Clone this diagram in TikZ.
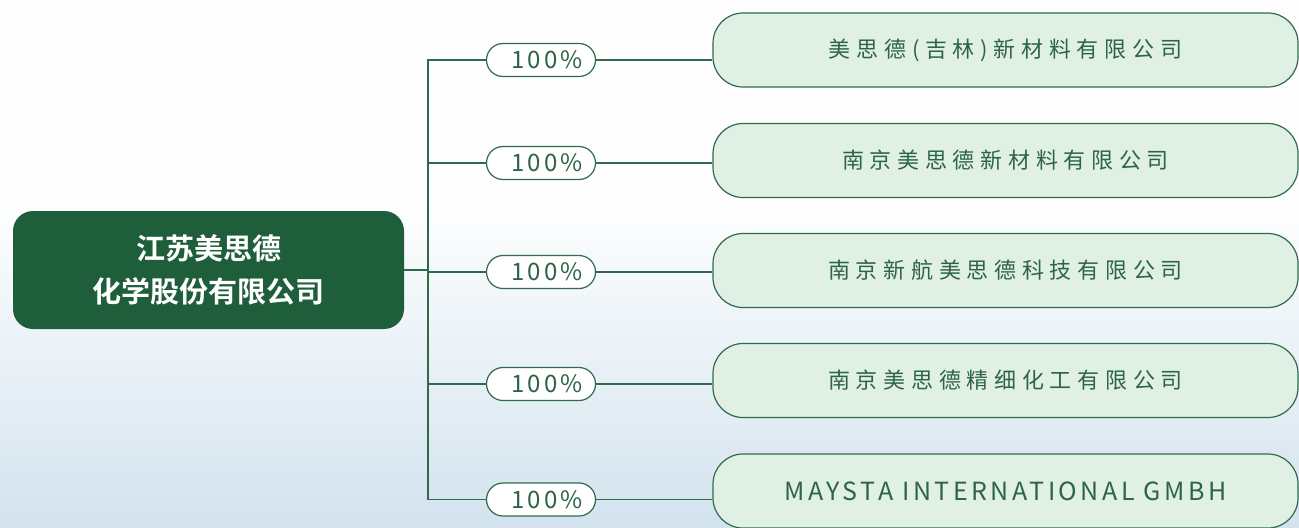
\documentclass[tikz,border=0pt]{standalone}
\usepackage{fontspec}
\setmainfont{Noto Sans CJK SC}
\newfontfamily\cjkname[LetterSpace=26]{Noto Sans CJK SC}
\newfontfamily\latinname[LetterSpace=14]{Noto Sans CJK SC}
\newfontfamily\cjkpct[LetterSpace=12]{Noto Sans CJK SC}
\newfontfamily\cjkbold{Noto Sans CJK SC Bold}
\definecolor{dkgreen}{HTML}{1F5E3B}
\definecolor{linegreen}{HTML}{2F6B4A}
\definecolor{txtgreen}{HTML}{2E6446}
\definecolor{mint}{HTML}{E0F0E4}
\definecolor{skyblue}{HTML}{D3E3EE}
\tikzset{
  parentbox/.style={shape=rectangle, rounded corners=10pt, fill=dkgreen, draw=none,
    minimum width=195.5pt, minimum height=59pt, text=white, align=center,
    font=\cjkbold\fontsize{14.5}{21.5}\selectfont},
  childbox/.style={shape=rectangle, rounded corners=15pt, fill=mint, draw=linegreen,
    line width=0.6pt, minimum width=292.5pt, minimum height=37pt, text=txtgreen,
    font=\cjkname\fontsize{11}{12}\selectfont},
  pctbox/.style={shape=rectangle, rounded corners=8.25pt, fill=white, draw=linegreen,
    line width=0.6pt, minimum width=54.5pt, minimum height=16.5pt, inner sep=0pt,
    text=txtgreen, font=\cjkpct\fontsize{12}{12}\selectfont},
  link/.style={draw=linegreen, line width=0.75pt}
}
\begin{document}
\begin{tikzpicture}[x=0.5pt, y=-0.5pt]
%%%%%%%%%%%%%%%%%%%%%%%%%%%%%%%%%%%%%%%%%%% HELP LINES
%\draw[help lines] (0,0) grid +(1299,527);

%%%%%%%%%%%%%%%%%%%%%%%%%%%%%%%%%%%%%%%%%%% background
\useasboundingbox (0,0) rectangle (1299,527);
\fill[white!98!skyblue] (0,0) rectangle (1299,200);
\shade[top color=white!98!skyblue, bottom color=skyblue] (0,200) rectangle (1299,527);

%%%%%%%%%%%%%%%%%%%%%%%%%%%%%%%%%%%%%%%%%%% elements
\node[parentbox](parent) at (208.5,270){江苏美思德\\化学股份有限公司};

\coordinate (trunk) at (428,270);

%%%%% shares
\node[pctbox](pct1) at (541,60){\hspace*{6pt}100\%};
\node[pctbox](pct2) at (541,163){\hspace*{6pt}100\%};
\node[pctbox](pct3) at (541,272){\hspace*{6pt}100\%};
\node[pctbox](pct4) at (541,384){\hspace*{6pt}100\%};
\node[pctbox](pct5) at (541,499.5){\hspace*{6pt}100\%};

%%%%% subsidiaries
\node[childbox](sub1) at (1005.5,50){美思德(吉林)新材料有限公司};
\node[childbox](sub2) at (1005.5,160.5){南京美思德新材料有限公司};
\node[childbox](sub3) at (1005.5,270.5){南京新航美思德科技有限公司};
\node[childbox](sub4) at (1005.5,380.5){南京美思德精细化工有限公司};
\node[childbox, font=\latinname\fontsize{12.5}{12}\selectfont](sub5) at (1005.5,491){MAYSTA INTERNATIONAL GMBH};

%%%%% links
\draw[link] (parent.east) -- (trunk);
\draw[link] (pct1.west) -| (trunk) |- (pct5.west);
\draw[link] (pct2.west) -- (pct2.west -| trunk);
\draw[link] (pct3.west) -- (pct3.west -| trunk);
\draw[link] (pct4.west) -- (pct4.west -| trunk);

\draw[link] (pct1.east) -- (pct1.east -| sub1.west);
\draw[link] (pct2.east) -- (pct2.east -| sub2.west);
\draw[link] (pct3.east) -- (pct3.east -| sub3.west);
\draw[link] (pct4.east) -- (pct4.east -| sub4.west);
\draw[link] (pct5.east) -- (pct5.east -| sub5.west);
\end{tikzpicture}
\end{document}
